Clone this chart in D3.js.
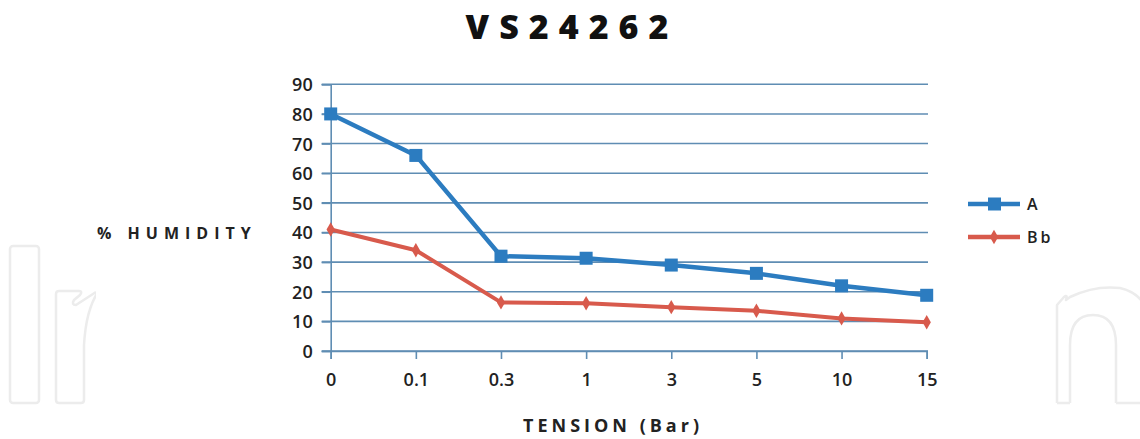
<!DOCTYPE html>
<html><head><meta charset="utf-8">
<script src="https://cdn.jsdelivr.net/npm/d3@7/dist/d3.min.js"></script>
<style>body{margin:0;background:#fff;}svg{display:block;}</style>
</head><body>
<svg id="c" width="1140" height="439"></svg>
<script>
const categories = ["0","0.1","0.3","1","3","5","10","15"];
const seriesA = [80, 66, 32, 31.3, 29, 26.2, 22, 18.8];
const seriesBb = [41, 34, 16.4, 16.1, 14.8, 13.6, 11, 9.7];
const yTicks = [0,10,20,30,40,50,60,70,80,90];
const seriesNames = ["A","Bb"];
const title = "VS24262";
const yTitle = "% HUMIDITY";
const xTitle = "TENSION (Bar)";

const svg = d3.select("#c");
const font = "'Open Sans', sans-serif";
const blue = "#2c7cc0", red = "#d85a4c", grid = "#5f8db3";

// watermark
const wm = svg.append("g").attr("fill","none").attr("stroke","#ececec").attr("stroke-width",2.5).attr("stroke-linejoin","round");
wm.append("rect").attr("x",10).attr("y",246).attr("width",29).attr("height",157).attr("rx",3);
wm.append("path").attr("d","M56,294 Q56,291 59,291 L79,291 Q83,291 80,295 L74,300 Q71,305 76,305 L96,292 M56,294 L56,400 Q56,403 59,403 L81,403 Q84,403 84,400 L84,345 Q86,310 98,292");
wm.append("path").attr("d","M1057,403 L1057,305 L1064,297 Q1068,294 1066,300 L1070,297 Q1095,285 1120,288 Q1150,295 1150,330 L1150,403 M1070,403 L1070,345 Q1070,315 1093,315 Q1116,315 1116,345 L1116,403 M1057,403 L1070,403 M1116,403 L1140,403");
svg.append("rect").attr("x",96).attr("y",0).attr("width",959).attr("height",439).attr("fill","#fff");

const x = d3.scalePoint().domain(categories).range([330.7, 926.7]).padding(0);
const y = d3.scaleLinear().domain([0,90]).range([351, 84.3]);

// gridlines
svg.append("g").selectAll("line").data(yTicks).join("line")
  .attr("x1",321.7).attr("x2",928).attr("y1",d=>y(d)).attr("y2",d=>y(d))
  .attr("stroke",grid).attr("stroke-width",1.6);

// y axis
const yAx = svg.append("g").attr("transform","translate(330.7,0)")
  .call(d3.axisLeft(y).tickValues(yTicks).tickSize(9).tickPadding(9));
yAx.select(".domain").attr("stroke",grid).attr("stroke-width",1.6);
yAx.selectAll(".tick line").attr("stroke",grid).attr("stroke-width",1.6);
yAx.selectAll("text").attr("font-family",font).attr("font-size",18).attr("font-weight",600).attr("fill","#222").attr("dy","0.36em");

// x axis
const xAx = svg.append("g").attr("transform","translate(0,351)")
  .call(d3.axisBottom(x).tickSize(8).tickPadding(14));
xAx.select(".domain").attr("stroke",grid).attr("stroke-width",1.6);
xAx.selectAll(".tick line").attr("stroke",grid).attr("stroke-width",1.6);
xAx.selectAll("text").attr("font-family",font).attr("font-size",18).attr("font-weight",600).attr("fill","#222");

const line = d3.line().x((d,i)=>x(categories[i])).y(d=>y(d));
svg.append("path").datum(seriesA).attr("d",line).attr("fill","none").attr("stroke",blue).attr("stroke-width",4.5).attr("stroke-linejoin","round");
svg.append("path").datum(seriesBb).attr("d",line).attr("fill","none").attr("stroke",red).attr("stroke-width",4).attr("stroke-linejoin","round");

svg.append("g").selectAll("rect").data(seriesA).join("rect")
  .attr("x",(d,i)=>x(categories[i])-6.5).attr("y",d=>y(d)-6.5).attr("width",13).attr("height",13).attr("fill",blue);
const diamond = d3.symbol().type(d3.symbolDiamond).size(60);
svg.append("g").selectAll("path").data(seriesBb).join("path")
  .attr("transform",(d,i)=>`translate(${x(categories[i])},${y(d)})`).attr("d",diamond).attr("fill",red);

// legend
const leg = [{n:seriesNames[0],c:blue,y:204,m:"sq"},{n:seriesNames[1],c:red,y:237,m:"di"}];
leg.forEach(l=>{
  svg.append("line").attr("x1",968).attr("x2",1020).attr("y1",l.y).attr("y2",l.y).attr("stroke",l.c).attr("stroke-width",4.5);
  if(l.m==="sq") svg.append("rect").attr("x",988).attr("y",l.y-6.5).attr("width",13).attr("height",13).attr("fill",l.c);
  else svg.append("path").attr("transform",`translate(994,${l.y})`).attr("d",diamond).attr("fill",l.c);
  svg.append("text").attr("x",1027).attr("y",l.y+6).text(l.n).attr("font-family",font).attr("font-size",16).attr("font-weight",600).attr("letter-spacing","3px").attr("fill","#222");
});

// titles
svg.append("text").attr("x",572).attr("y",39).attr("text-anchor","middle").text(title)
  .attr("font-family",font).attr("font-size",34).attr("font-weight",800).attr("letter-spacing","10px").attr("fill","#111");
svg.append("text").attr("x",97).attr("y",239).text(yTitle)
  .attr("font-family",font).attr("font-size",16).attr("font-weight",700).attr("letter-spacing","6px").attr("fill","#222");
svg.append("text").attr("x",613).attr("y",432).attr("text-anchor","middle").text(xTitle)
  .attr("font-family",font).attr("font-size",18).attr("font-weight",700).attr("letter-spacing","4px").attr("fill","#222");
</script>
</body></html>
